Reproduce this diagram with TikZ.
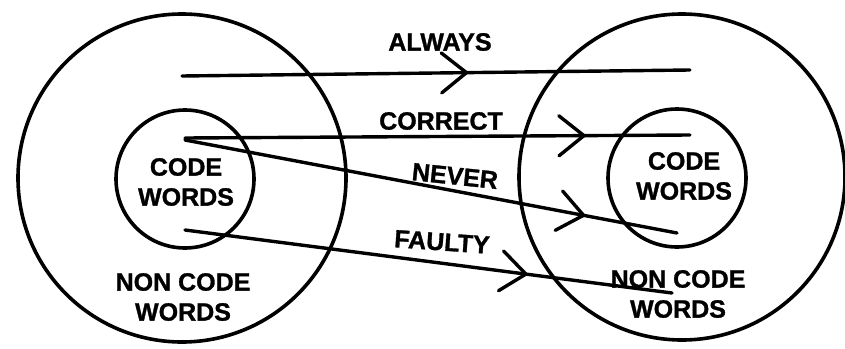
\documentclass[tikz,border=0pt]{standalone}
\usepackage{fontspec}
\setmainfont{Liberation Sans}[BoldFont={Liberation Sans Bold},BoldFeatures={FakeBold=1.2}]
\usetikzlibrary{decorations.markings}
\begin{document}
\begin{tikzpicture}[x=1pt,y=-1pt,
  ring/.style={circle,draw,line width=3.6pt,inner sep=0pt},
  lbl/.style={font=\fontsize{25}{30}\selectfont\bfseries,inner sep=0pt,align=center},
  flow/.style={line width=3.4pt,line cap=round,postaction={decorate},
    decoration={markings,mark=at position #1 with {\draw[line width=3.4pt,line cap=round,line join=miter] (-25,20) -- (0,0) -- (-25,-20);}}}
  ]
\useasboundingbox (0,0) rectangle (845,348);
% circles
\node[ring,minimum size=328pt] (L) at (182,178) {};
\node[ring,minimum size=326pt] (R) at (682,177) {};
\node[ring,minimum size=138pt] (Li) at (185,179) {};
\node[ring,minimum size=138pt] (Ri) at (677,178) {};
% texts
\node[lbl] (lcw) at (186,182) {CODE\\WORDS};
\node[lbl] (rcw) at (684,176) {CODE\\WORDS};
\node[lbl] (lncw) at (183,297) {NON CODE\\WORDS};
\node[lbl] (rncw) at (678,294) {NON CODE\\WORDS};
\node[lbl] (always) at (440,42) {ALWAYS};
\node[lbl] (correct) at (441,121) {CORRECT};
\node[lbl,rotate=-6] (never) at (455,176) {NEVER};
\node[lbl,rotate=-4] (faulty) at (442,242) {FAULTY};
% end points
\coordinate (a1) at (182,76);
\coordinate (a2) at (690,70);
\coordinate (c1) at (185,138);
\coordinate (c2) at (690,135);
\coordinate (n1) at (185,140);
\coordinate (n2) at (677,233);
\coordinate (f1) at (185,230);
\coordinate (f2) at (672,293);
% connectors
\draw[flow=0.56] (a1) -- (a2);
\draw[flow=0.79] (c1) -- (c2);
\draw[flow=0.81] (n1) -- (n2);
\draw[flow=0.70] (f1) -- (f2);
\end{tikzpicture}
\end{document}
